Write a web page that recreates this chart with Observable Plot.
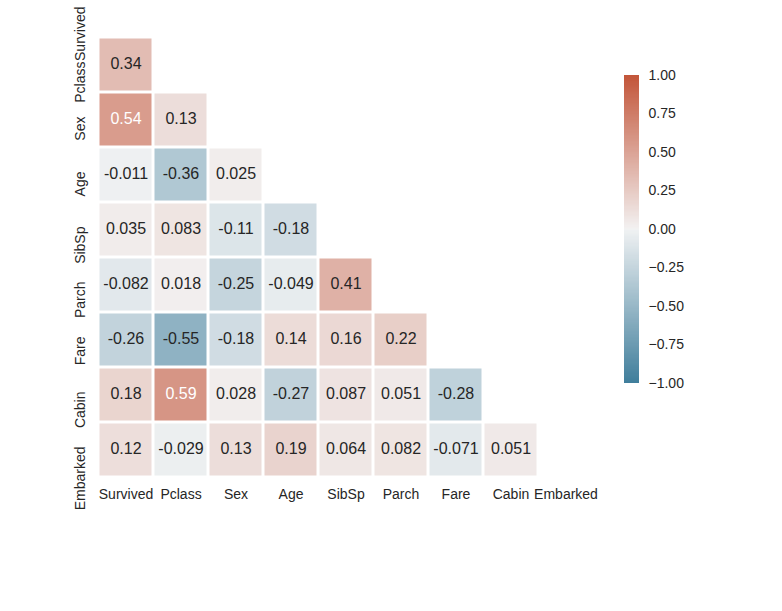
<!DOCTYPE html>
<html><head><meta charset="utf-8">
<script src="https://cdn.jsdelivr.net/npm/d3@7"></script>
<script src="https://cdn.jsdelivr.net/npm/@observablehq/plot@0.6"></script>
<style>
body{margin:0;background:#fff;}
#chart{position:relative;width:782px;height:611px;background:#fff;}
#chart svg{position:absolute;top:0;overflow:visible;max-width:none;}
</style></head><body><div id="chart"></div>
<script>
// ---- data ----
const variables = ["Survived","Pclass","Sex","Age","SibSp","Parch","Fare","Cabin","Embarked"];
// lower-triangle correlation rows (row variable vs. earlier columns)
const rowPclass   = [0.34];
const rowSex      = [0.54, 0.13];
const rowAge      = [-0.011, -0.36, 0.025];
const rowSibSp    = [0.035, 0.083, -0.11, -0.18];
const rowParch    = [-0.082, 0.018, -0.25, -0.049, 0.41];
const rowFare     = [-0.26, -0.55, -0.18, 0.14, 0.16, 0.22];
const rowCabin    = [0.18, 0.59, 0.028, -0.27, 0.087, 0.051, -0.28];
const rowEmbarked = [0.12, -0.029, 0.13, 0.19, 0.064, 0.082, -0.071, 0.051];
const colorbarTicks = [-1, -0.75, -0.5, -0.25, 0, 0.25, 0.5, 0.75, 1];

const rows = [rowPclass, rowSex, rowAge, rowSibSp, rowParch, rowFare, rowCabin, rowEmbarked];
const cells = [];
rows.forEach((vals, r) => vals.forEach((v, c) => cells.push({row: variables[r + 1], col: variables[c], value: v})));

// ---- seaborn diverging_palette(230, 20, as_cmap=True) rebuilt via HUSL ----
const M = [[3.2406, -1.5372, -0.4986], [-0.9689, 1.8758, 0.0415], [0.0557, -0.2040, 1.0570]];
const refU = 0.19784, refV = 0.46834, kappa = 903.3, eps = 0.008856;
function maxChroma(L, H) {
  const hr = H * Math.PI / 180, sinH = Math.sin(hr), cosH = Math.cos(hr);
  const sub1 = Math.pow(L + 16, 3) / 1560896;
  const sub2 = sub1 > eps ? sub1 : L / kappa;
  let result = Infinity;
  for (const [m1, m2, m3] of M) {
    const top = (0.99915 * m1 + 1.05122 * m2 + 1.14460 * m3) * sub2;
    const rb = 0.86330 * m3 - 0.17266 * m2;
    const lb = 0.12949 * m3 - 0.38848 * m1;
    const bottom = (rb * sinH + lb * cosH) * sub2;
    for (const t of [0, 1]) {
      const C = L * (top - 1.05122 * t) / (bottom + 0.17266 * sinH * t);
      if (C > 0 && C < result) result = C;
    }
  }
  return result;
}
function husl(h, s, l) {
  const C = maxChroma(l, h) / 100 * s;
  const hr = h * Math.PI / 180;
  const U = Math.cos(hr) * C, V = Math.sin(hr) * C;
  const t = (l + 16) / 116;
  const Y = t ** 3 > eps ? t ** 3 : (116 * t - 16) / kappa;
  const vu = U / (13 * l) + refU, vv = V / (13 * l) + refV;
  const X = 0 - (9 * Y * vu) / ((vu - 4) * vv - vu * vv);
  const Z = (9 * Y - 15 * vv * Y - vv * X) / (3 * vv);
  return M.map(([a, b, c]) => {
    const v = a * X + b * Y + c * Z;
    const g = v <= 0.0031308 ? 12.92 * v : 1.055 * Math.pow(v, 1 / 2.4) - 0.055;
    return Math.min(1, Math.max(0, g));
  });
}
const mix = (a, b, f) => a.map((x, i) => x + (b[i] - x) * f);
const negEnd = husl(230, 75, 50), negGray = husl(230, 11.25, 95);
const posEnd = husl(20, 75, 50), posGray = husl(20, 11.25, 95);
const stops = [];
for (let k = 0; k < 128; k++) stops.push(mix(negEnd, negGray, k / 127));
stops.push([0.95, 0.95, 0.95]);
for (let k = 0; k < 128; k++) stops.push(mix(posGray, posEnd, k / 127));
function colorAt(x) { // x in [0,1] over 257 stops
  const p = x * (stops.length - 1), i = Math.min(stops.length - 2, Math.floor(p));
  return mix(stops[i], stops[i + 1], p - i);
}
const lut = d3.range(256).map(i => colorAt(i / 255));
const lutCss = lut.map(c => `rgb(${c.map(x => Math.round(x * 255)).join(",")})`);
const thresholds = d3.range(1, 256).map(i => -1 + 2 * i / 256);
const colorOpts = {type: "threshold", domain: thresholds, range: lutCss};
function lum(v) {
  const idx = Math.max(0, Math.min(255, Math.floor((v + 1) / 2 * 256)));
  const f = x => x <= 0.03928 ? x / 12.92 : Math.pow((x + 0.055) / 1.055, 2.4);
  const c = lut[idx];
  return 0.2126 * f(c[0]) + 0.7152 * f(c[1]) + 0.0722 * f(c[2]);
}
const fmt = d3.formatLocale({decimal: ".", thousands: ",", grouping: [3], currency: ["", ""], minus: "-"}).format(".2g");
const font = '"Liberation Sans", Arial, Helvetica, sans-serif';
const ink = "#262626";

const main = Plot.plot({
  width: 782, height: 611,
  marginLeft: 97.5, marginRight: 189.5, marginTop: 0, marginBottom: 134.5,
  x: {domain: variables, padding: 0, axis: null},
  y: {domain: variables, range: [-18.5, 476.5], padding: 0, axis: null},
  color: colorOpts,
  style: {fontFamily: font, fontSize: "14px", color: ink, background: "transparent"},
  marks: [
    Plot.cell(cells, {x: "col", y: "row", fill: "value", inset: 1.5}),
    Plot.text(cells, {filter: d => lum(d.value) > 0.408, x: "col", y: "row", text: d => fmt(d.value), fill: ink, fontSize: 16, dy: -1.5}),
    Plot.text(cells, {filter: d => lum(d.value) <= 0.408, x: "col", y: "row", text: d => fmt(d.value), fill: "white", fontSize: 16, dy: -1.5}),
    Plot.text(variables, {y: d => d, text: d => d, frameAnchor: "left", dx: -13.5, dy: -3.5, rotate: -90, textAnchor: "end", lineAnchor: "bottom", fontSize: 14, fill: ink}),
    Plot.text(variables, {x: d => d, text: d => d, frameAnchor: "bottom", dy: 21.5, lineAnchor: "bottom", fontSize: 14, fill: ink})
  ]
});
main.style.left = "0px";

const gradient = d3.range(256).map(i => -1 + 2 * i / 256);
const cbar = Plot.plot({
  width: 182, height: 611,
  marginLeft: 24, marginRight: 143, marginTop: 75, marginBottom: 228,
  x: {axis: null},
  y: {domain: [-1, 1], ticks: colorbarTicks, tickFormat: ".2f", tickSize: 0, tickPadding: 9, axis: "right", label: null},
  color: colorOpts,
  style: {fontFamily: font, fontSize: "14px", color: ink, background: "transparent"},
  marks: [
    Plot.rect(gradient, {y1: d => d, y2: d => d + 2 / 256 + 0.002, fill: d => d + 1 / 256, shapeRendering: "crispEdges"})
  ]
});
cbar.style.left = "600px";

document.getElementById("chart").append(main, cbar);
</script></body></html>
